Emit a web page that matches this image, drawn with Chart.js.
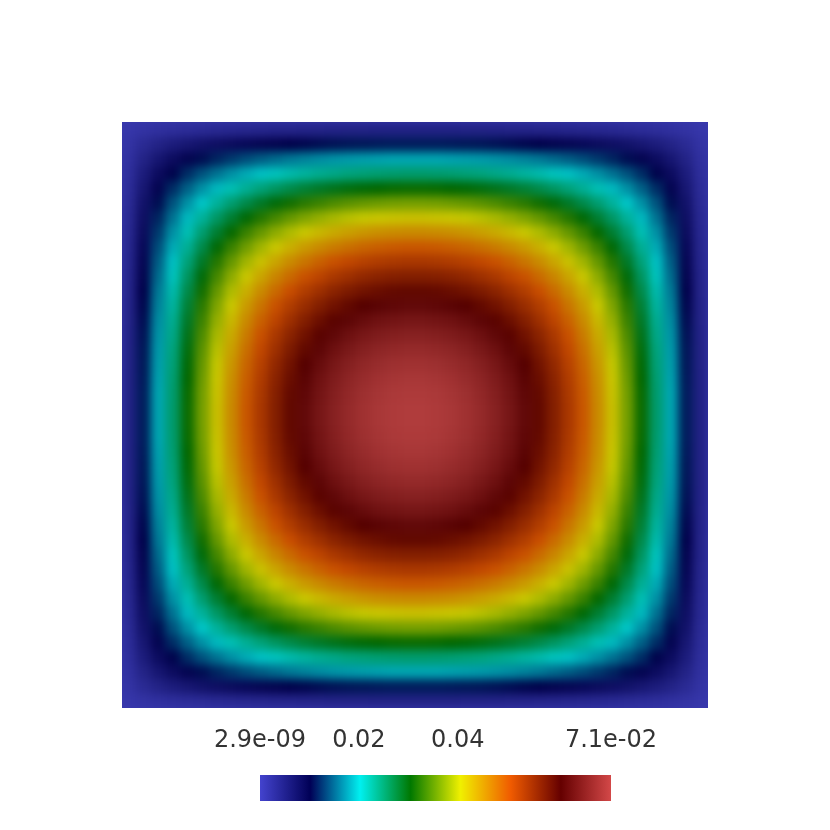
<!DOCTYPE html>
<html>
<head>
<meta charset="utf-8">
<title>Scalar field</title>
<script src="https://cdn.jsdelivr.net/npm/chart.js@4.4.1/dist/chart.umd.min.js"></script>
<style>
  body { margin: 0; background: #fff; }
  #wrap { position: relative; width: 830px; height: 830px; }
  /* the field is shaded smoothly like the original render; the clip keeps the square sharp */
  #plotClip { position: absolute; left: 122px; top: 122px; width: 586px; height: 586px; overflow: hidden; }
  #fieldChart { position: absolute; left: -122px; top: -122px; filter: blur(5px); }
  #barChart { position: absolute; left: 0; top: 700px; }
</style>
</head>
<body>
<div id="wrap">
  <div id="plotClip"><canvas id="fieldChart" width="830" height="830"></canvas></div>
  <canvas id="barChart" width="830" height="130"></canvas>
</div>
<script>
// Field values, in units of 1e-3.
// The picture is symmetric, so only one eighth is kept: row i holds the
// cells (i, i), (i, i+1) ... (i, 19), counted from the outer edge inwards.
const quarterRows = [
  [0.4, 1.0, 1.4, 1.8, 2.1, 2.4, 2.7, 2.9, 3.1, 3.2, 3.4, 3.5, 3.6, 3.7, 3.8, 3.9, 3.9, 4.0, 4.0, 4.0],
  [2.6, 3.9, 5.1, 6.0, 6.9, 7.6, 8.2, 8.8, 9.3, 9.7, 10.1, 10.4, 10.7, 11.0, 11.2, 11.3, 11.4, 11.5, 11.5],
  [6.1, 7.9, 9.4, 10.8, 12.0, 13.0, 14.0, 14.8, 15.5, 16.2, 16.7, 17.2, 17.6, 17.9, 18.1, 18.3, 18.5, 18.5],
  [10.3, 12.4, 14.3, 15.9, 17.4, 18.7, 19.8, 20.8, 21.7, 22.4, 23.1, 23.6, 24.1, 24.4, 24.7, 24.9, 25.0],
  [15.0, 17.4, 19.4, 21.3, 22.9, 24.3, 25.6, 26.7, 27.7, 28.5, 29.2, 29.8, 30.2, 30.5, 30.8, 30.9],
  [20.1, 22.6, 24.8, 26.7, 28.5, 30.0, 31.3, 32.5, 33.4, 34.3, 35.0, 35.5, 35.9, 36.2, 36.3],
  [25.4, 27.9, 30.2, 32.2, 33.9, 35.5, 36.8, 37.9, 38.9, 39.7, 40.3, 40.8, 41.1, 41.3],
  [30.7, 33.3, 35.5, 37.5, 39.2, 40.7, 42.0, 43.1, 44.0, 44.7, 45.3, 45.6, 45.8],
  [36.0, 38.5, 40.7, 42.6, 44.3, 45.7, 46.9, 47.9, 48.7, 49.3, 49.7, 49.9],
  [41.2, 43.5, 45.6, 47.4, 49.0, 50.3, 51.4, 52.3, 52.9, 53.3, 53.5],
  [46.1, 48.3, 50.3, 51.9, 53.4, 54.5, 55.5, 56.2, 56.6, 56.8],
  [50.7, 52.8, 54.5, 56.1, 57.3, 58.3, 59.0, 59.5, 59.7],
  [54.9, 56.8, 58.4, 59.7, 60.8, 61.5, 62.0, 62.3],
  [58.8, 60.4, 61.8, 62.9, 63.7, 64.2, 64.5],
  [62.1, 63.6, 64.7, 65.5, 66.1, 66.4],
  [65.0, 66.2, 67.0, 67.6, 67.9],
  [67.4, 68.2, 68.8, 69.1],
  [69.1, 69.7, 70.0],
  [70.3, 70.6],
  [70.9]
];
const valueUnit = 1e-3;
const valueMin = 2.9e-9;
const valueMax = 7.1e-2;
const tickValues = [2.9e-9, 0.02, 0.04, 0.071];
const tickLabels = ['2.9e-09', '0.02', '0.04', '7.1e-02'];

// "Rainbow Desaturated" colour map
const cmapStops = [0, 0.143, 0.285, 0.429, 0.571, 0.714, 0.857, 1];
const cmapColors = [
  [71, 71, 219], [0, 0, 92], [0, 255, 255], [0, 128, 0],
  [255, 255, 0], [255, 97, 0], [107, 0, 0], [224, 77, 77]
];
const plotShade = 0.79;   // the surface is lit, so it is a bit darker
const barShade = 0.94;

function rgb(c, shade) {
  return 'rgb(' + c.map(function(v) { return Math.round(v * shade); }).join(',') + ')';
}

function mapColor(value, shade) {
  let t = (value - valueMin) / (valueMax - valueMin);
  t = Math.max(0, Math.min(1, t));
  let k = 0;
  while (k < cmapStops.length - 2 && t > cmapStops[k + 1]) k++;
  const f = (t - cmapStops[k]) / (cmapStops[k + 1] - cmapStops[k]);
  const a = cmapColors[k], b = cmapColors[k + 1];
  return rgb([0, 1, 2].map(function(n) { return a[n] + (b[n] - a[n]) * f; }), shade);
}

// full grid, mirrored from the stored eighth
const half = quarterRows.length;
const gridSize = half * 2;
const cells = [];
for (let r = 0; r < gridSize; r++) {
  for (let c = 0; c < gridSize; c++) {
    const qr = Math.min(r, gridSize - 1 - r);
    const qc = Math.min(c, gridSize - 1 - c);
    const i = Math.min(qr, qc);
    const j = Math.max(qr, qc);
    cells.push({
      x: (c + 0.5) / gridSize,
      y: (r + 0.5) / gridSize,
      v: quarterRows[i][j - i] * valueUnit
    });
  }
}

function cellRadius(ctx) {
  const xs = ctx.chart.scales.x;
  if (!xs) return 0;
  const side = Math.abs(xs.getPixelForValue(1 / gridSize) - xs.getPixelForValue(0));
  return side * Math.SQRT1_2;   // 'rect' points are sqrt(2) * radius wide
}

function cellColor(ctx) {
  return ctx.raw ? mapColor(ctx.raw.v, plotShade) : 'transparent';
}

// boundary value colour just outside the square, so the soft shading
// does not fade towards white at the edges (that strip is clipped away)
const boundaryFill = {
  id: 'boundaryFill',
  beforeDatasetsDraw: function(chart) {
    const a = chart.chartArea;
    const ctx = chart.ctx;
    ctx.save();
    ctx.fillStyle = mapColor(valueMin, plotShade);
    ctx.fillRect(a.left - 30, a.top - 30, a.width + 60, a.height + 60);
    ctx.restore();
  }
};

new Chart(document.getElementById('fieldChart'), {
  type: 'scatter',
  data: {
    datasets: [{
      data: cells,
      pointStyle: 'rect',
      pointRadius: cellRadius,
      pointBackgroundColor: cellColor,
      pointBorderColor: cellColor,
      pointBorderWidth: 1
    }]
  },
  options: {
    responsive: false,
    animation: false,
    events: [],
    layout: { padding: 122 },
    scales: {
      x: { type: 'linear', min: 0, max: 1, display: false },
      y: { type: 'linear', min: 0, max: 1, display: false }
    },
    plugins: {
      legend: { display: false },
      tooltip: { enabled: false }
    }
  },
  plugins: [boundaryFill]
});

// colour bar
function barGradient(ctx) {
  const chart = ctx.chart;
  if (!chart.chartArea) return null;
  const xs = chart.scales.x;
  const x0 = xs.getPixelForValue(valueMin);
  const x1 = xs.getPixelForValue(valueMax);
  const g = chart.ctx.createLinearGradient(x0, 0, x1, 0);
  cmapStops.forEach(function(s, k) {
    g.addColorStop(s, rgb(cmapColors[k], barShade));
  });
  return g;
}

new Chart(document.getElementById('barChart'), {
  type: 'bar',
  data: {
    labels: ['range'],
    datasets: [{
      data: [[valueMin, valueMax]],
      backgroundColor: barGradient,
      borderWidth: 0,
      barPercentage: 1,
      categoryPercentage: 1
    }]
  },
  options: {
    indexAxis: 'y',
    responsive: false,
    animation: false,
    events: [],
    layout: { padding: { left: 260, right: 219, top: 26, bottom: 29 } },
    scales: {
      x: {
        type: 'linear',
        position: 'top',
        min: valueMin,
        max: valueMax,
        grid: { display: false, drawTicks: false },
        border: { display: false },
        afterBuildTicks: function(scale) {
          scale.ticks = tickValues.map(function(v) { return { value: v }; });
        },
        afterFit: function(scale) {
          scale.height = 49;   // otherwise capped at half the canvas
        },
        ticks: {
          padding: 20,
          color: '#333',
          autoSkip: false,
          maxRotation: 0,
          font: { family: 'DejaVu Sans', size: 24 },
          callback: function(value, index) { return tickLabels[index]; }
        }
      },
      y: { display: false }
    },
    plugins: {
      legend: { display: false },
      tooltip: { enabled: false }
    }
  }
});
</script>
</body>
</html>
